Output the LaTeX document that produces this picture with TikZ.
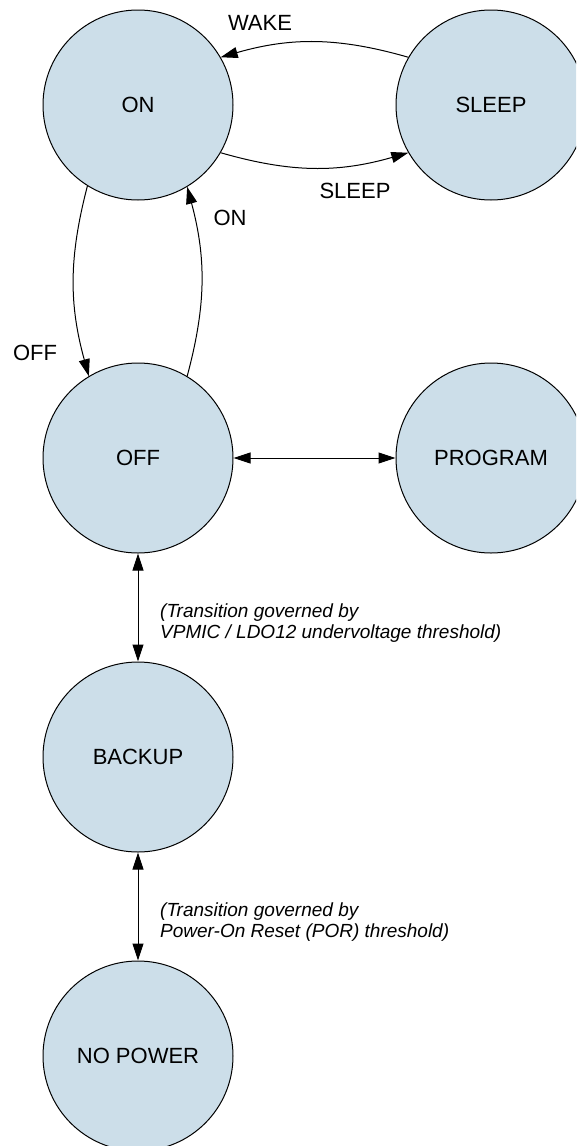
\documentclass[tikz,border=0pt]{standalone}
\usepackage{fontspec}
\setmainfont{Liberation Sans}
\usetikzlibrary{arrows.meta}
\definecolor{statefill}{RGB}{204,222,233}
\begin{document}
\begin{tikzpicture}[x=1pt,y=-1pt,
  state/.style={circle, draw=black, line width=1pt, fill=statefill, minimum size=190pt, inner sep=0pt, font=\fontsize{22}{26}\selectfont},
  lbl/.style={inner sep=0pt, font=\fontsize{22}{26}\selectfont},
  note/.style={inner sep=0pt, align=left, font=\fontsize{19}{21}\selectfont\itshape},
  arr/.style={line width=1pt, -{Triangle[length=17pt,width=11pt]}},
  darr/.style={line width=1pt, {Triangle[length=17pt,width=11pt]}-{Triangle[length=17pt,width=11pt]}}]
\useasboundingbox (0,0) rectangle (576,1146);
\clip (0,0) rectangle (576,1146);
\node[state] (on) at (138,105) {ON};
\node[state] (sleep) at (491,105) {SLEEP};
\node[state] (off) at (138,458) {OFF};
\node[state] (prog) at (491,458) {PROGRAM};
\node[state] (backup) at (138,757) {BACKUP};
\node[state] (nopower) at (138,1056) {NO POWER};
\draw[arr] (sleep.150) to[bend right=16] (on.30);
\draw[arr] (on.-30) to[bend right=16] (sleep.210);
\draw[arr] (on.238.6) to[bend right=15] (off.121);
\draw[arr] (off.59.7) to[bend right=15] (on.-59.4);
\draw[darr] (off) -- (prog);
\draw[darr] (off) -- (backup);
\draw[darr] (backup) -- (nopower);
\node[lbl] (lwake) at (260,23) {WAKE};
\node[lbl] (lsleep) at (355,191) {SLEEP};
\node[lbl] (lon) at (230,218) {ON};
\node[lbl] (loff) at (35,353) {OFF};
\node[note, anchor=base west] (n1) at (160,638) {(Transition governed by\\VPMIC / LDO12 undervoltage threshold)};
\node[note, anchor=base west] (n2) at (160,937) {(Transition governed by\\Power-On Reset (POR) threshold)};
\end{tikzpicture}
\end{document}
